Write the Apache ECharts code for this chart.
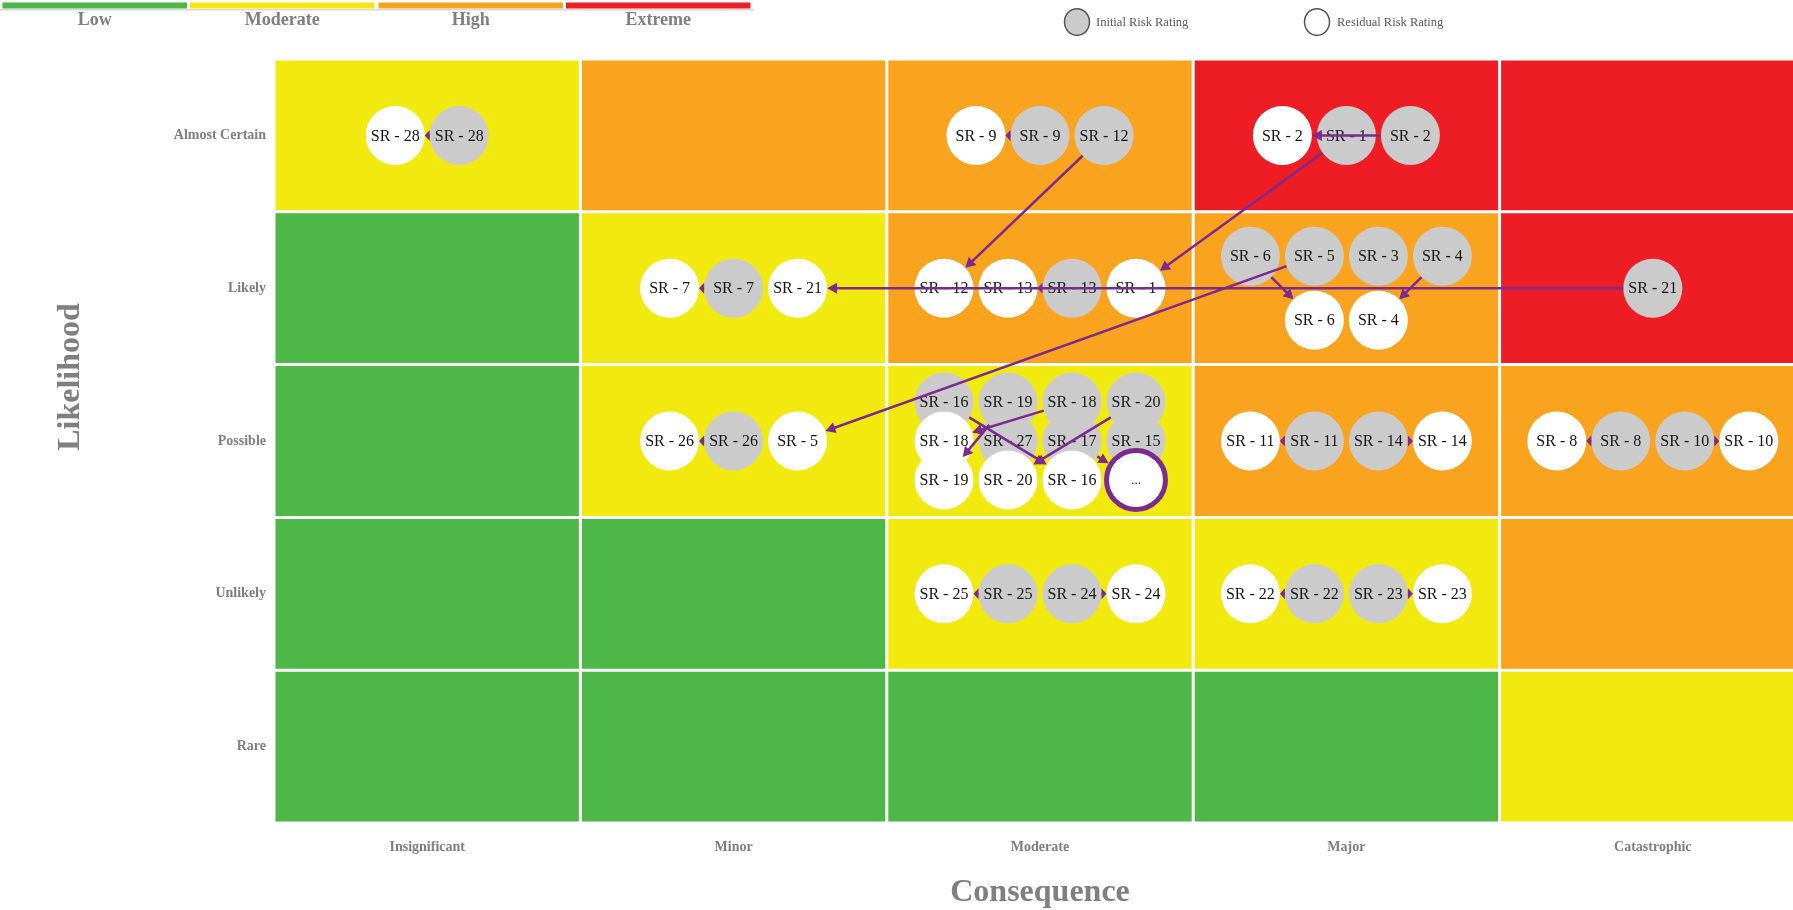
<!DOCTYPE html>
<html><head><meta charset="utf-8">
<script src="https://cdn.jsdelivr.net/npm/echarts@6/dist/echarts.min.js"></script>
<style>html,body{margin:0;padding:0;background:#fff}#c{width:1793px;height:910px}</style>
</head><body><div id="c"></div>
<script>
// ---------- data ----------
const consequences = ['Insignificant', 'Minor', 'Moderate', 'Major', 'Catastrophic'];
const likelihoods = ['Rare', 'Unlikely', 'Possible', 'Likely', 'Almost Certain'];
const ratingNames = ['Low', 'Moderate', 'High', 'Extreme'];
const ratingColors = ['#4DB848', '#F2EA0E', '#FAA31E', '#EE1D25'];
// rating index per consequence, one array per likelihood row
const ratingRare = [0, 0, 0, 0, 1];
const ratingUnlikely = [0, 0, 1, 1, 2];
const ratingPossible = [0, 1, 1, 2, 2];
const ratingLikely = [0, 1, 2, 2, 3];
const ratingAlmostCertain = [1, 2, 2, 3, 3];
const ratingRows = [ratingRare, ratingUnlikely, ratingPossible, ratingLikely, ratingAlmostCertain];

// cell contents in drawing order: I = initial risk rating, R = residual risk rating
const cellContents = [
  ['Almost Certain', 'Insignificant', ['R SR - 28', 'I SR - 28']],
  ['Almost Certain', 'Moderate', ['R SR - 9', 'I SR - 9', 'I SR - 12']],
  ['Almost Certain', 'Major', ['R SR - 2', 'I SR - 1', 'I SR - 2']],
  ['Likely', 'Minor', ['R SR - 7', 'I SR - 7', 'R SR - 21']],
  ['Likely', 'Moderate', ['R SR - 12', 'R SR - 13', 'I SR - 13', 'R SR - 1']],
  ['Likely', 'Major', ['I SR - 6', 'I SR - 5', 'I SR - 3', 'I SR - 4', 'R SR - 6', 'R SR - 4']],
  ['Likely', 'Catastrophic', ['I SR - 21']],
  ['Possible', 'Minor', ['R SR - 26', 'I SR - 26', 'R SR - 5']],
  ['Possible', 'Moderate', ['I SR - 16', 'I SR - 19', 'I SR - 18', 'I SR - 20', 'R SR - 18', 'I SR - 27', 'I SR - 17', 'I SR - 15', 'R SR - 19', 'R SR - 20', 'R SR - 16', 'R SR - 17', 'R SR - 15']],
  ['Possible', 'Major', ['R SR - 11', 'I SR - 11', 'I SR - 14', 'R SR - 14']],
  ['Possible', 'Catastrophic', ['R SR - 8', 'I SR - 8', 'I SR - 10', 'R SR - 10']],
  ['Unlikely', 'Moderate', ['R SR - 25', 'I SR - 25', 'I SR - 24', 'R SR - 24']],
  ['Unlikely', 'Major', ['R SR - 22', 'I SR - 22', 'I SR - 23', 'R SR - 23']]
];
const legendItems = ['Initial Risk Rating', 'Residual Risk Rating'];

// ---------- styling ----------
const GRAY_TXT = '#808080';
const SERIF = '"Liberation Serif", "Times New Roman", serif';
const INITIAL_FILL = '#CBCBCB';
const RESIDUAL_FILL = '#FFFFFF';
const ARROW = '#7B2A8D';
const R = 29.5;
const STEP = 64;
const MAX_SLOTS = 12;

// ---------- build marks ----------
const cellData = [];
ratingRows.forEach((row, l) => row.forEach((r, c) => cellData.push([c, l, r])));

const bubbles = [];
const lookup = {};
cellContents.forEach(([lk, cs, items]) => {
  const c = consequences.indexOf(cs), l = likelihoods.indexOf(lk);
  const overflow = items.length > MAX_SLOTS;
  const shown = overflow ? MAX_SLOTS - 1 : items.length;
  const n = overflow ? MAX_SLOTS : items.length;
  let more = null;
  if (overflow) more = { c, l, slot: MAX_SLOTS - 1, n, kind: 'M', label: '...' };
  items.forEach((tok, i) => {
    const kind = tok[0], label = tok.slice(2);
    if (i < shown) {
      const b = { c, l, slot: i, n, kind, label };
      bubbles.push(b); lookup[tok] = b;
    } else {
      lookup[tok] = more;
    }
  });
  if (more) bubbles.push(more);
});

const arrows = [];
Object.keys(lookup).forEach(tok => {
  if (tok[0] !== 'I') return;
  const res = lookup['R ' + tok.slice(2)];
  if (res) arrows.push({ from: lookup[tok], to: res });
});

function slotOffset(slot, n, size) {
  const rows = Math.ceil(n / 4);
  const r = Math.floor(slot / 4), i = slot % 4;
  const k = Math.min(4, n - 4 * r);
  const stepY = rows > 1 ? Math.min(STEP, (size[1] - 2 * R - 16) / (rows - 1)) : 0;
  return [(i - (k - 1) / 2) * STEP, (r - (rows - 1) / 2) * stepY];
}
function bubblePix(b, api) {
  const p = api.coord([b.c, b.l]);
  const o = slotOffset(b.slot, b.n, api.size([1, 1]));
  return [p[0] + o[0], p[1] + o[1]];
}

const chart = echarts.init(document.getElementById('c'), null, { renderer: 'canvas' });

const legendGraphics = [];
const barX = [2.5, 190, 378.5, 566];
const barW = 184.5;
legendGraphics.push({ type: 'rect', shape: { x: 0, y: 9, width: 754, height: 1.5 }, style: { fill: '#DADADA' } });
ratingNames.forEach((nm, i) => {
  legendGraphics.push({ type: 'rect', shape: { x: barX[i], y: 2.5, width: barW, height: 6 }, style: { fill: ratingColors[i] } });
  legendGraphics.push({ type: 'text', x: barX[i] + barW / 2, y: 20, style: { text: nm, align: 'center', verticalAlign: 'middle', font: 'bold 18px ' + SERIF, fill: GRAY_TXT } });
});
[[1077, INITIAL_FILL, 1096], [1317, RESIDUAL_FILL, 1337]].forEach(([cx, fill, tx], i) => {
  legendGraphics.push({ type: 'ellipse', shape: { cx: cx, cy: 22, rx: 12.5, ry: 13.3 }, style: { fill: fill, stroke: '#555', lineWidth: 1.5 } });
  legendGraphics.push({ type: 'text', x: tx, y: 23, style: { text: legendItems[i], align: 'left', verticalAlign: 'middle', font: '12.5px ' + SERIF, fill: '#5a5a5a' } });
});
legendGraphics.push({ type: 'text', x: 71, y: 377, rotation: Math.PI / 2, style: { text: 'Likelihood', align: 'center', verticalAlign: 'middle', font: 'bold 32px ' + SERIF, fill: GRAY_TXT } });

chart.setOption({
  animation: false,
  backgroundColor: '#fff',
  grid: { left: 274, top: 59, right: -13, bottom: 87, containLabel: false, outerBoundsMode: 'none' },
  xAxis: {
    type: 'category', data: consequences,
    axisLine: { show: false }, axisTick: { show: false }, splitLine: { show: false },
    axisLabel: { margin: 17, color: GRAY_TXT, fontFamily: SERIF, fontWeight: 'bold', fontSize: 14 },
    name: 'Consequence', nameLocation: 'middle', nameGap: 54,
    nameTextStyle: { color: GRAY_TXT, fontFamily: SERIF, fontWeight: 'bold', fontSize: 32 }
  },
  yAxis: {
    type: 'category', data: likelihoods,
    axisLine: { show: false }, axisTick: { show: false }, splitLine: { show: false },
    axisLabel: { margin: 8, color: GRAY_TXT, fontFamily: SERIF, fontWeight: 'bold', fontSize: 14 }
  },
  graphic: legendGraphics,
  series: [
    {
      type: 'custom', z: 1, clip: false,
      data: cellData,
      renderItem: (params, api) => {
        const p = api.coord([api.value(0), api.value(1)]);
        const s = api.size([1, 1]);
        return {
          type: 'rect',
          shape: { x: p[0] - s[0] / 2 + 1.5, y: p[1] - s[1] / 2 + 1.5, width: s[0] - 3, height: s[1] - 3 },
          style: { fill: ratingColors[api.value(2)] }
        };
      }
    },
    {
      type: 'custom', z: 2, clip: false,
      data: bubbles.map(b => [b.c, b.l]),
      renderItem: (params, api) => {
        const b = bubbles[params.dataIndex];
        const p = bubblePix(b, api);
        const isMore = b.kind === 'M';
        return {
          type: 'group',
          children: [
            { type: 'circle', shape: { cx: p[0], cy: p[1], r: R },
              style: isMore ? { fill: '#fff', stroke: ARROW, lineWidth: 5 } : { fill: b.kind === 'I' ? INITIAL_FILL : RESIDUAL_FILL } },
            { type: 'text', x: p[0], y: p[1] + 1,
              style: { text: b.label, align: 'center', verticalAlign: 'middle', font: (isMore ? '13px ' : '16px ') + SERIF, fill: '#161616' } }
          ]
        };
      }
    },
    {
      type: 'custom', z: 3, clip: false,
      data: arrows.map(a => [a.from.c, a.from.l]),
      renderItem: (params, api) => {
        const a = arrows[params.dataIndex];
        const p1 = bubblePix(a.from, api), p2 = bubblePix(a.to, api);
        const r1 = R, r2 = a.to.kind === 'M' ? R + 2.5 : R;
        const dx = p2[0] - p1[0], dy = p2[1] - p1[1];
        const d = Math.sqrt(dx * dx + dy * dy);
        if (d < r1 + r2 + 4) return null;
        const ux = dx / d, uy = dy / d;
        const sx = p1[0] + ux * r1, sy = p1[1] + uy * r1;
        const tx = p2[0] - ux * r2, ty = p2[1] - uy * r2;
        const hl = Math.min(10, (d - r1 - r2)), hw = 5.5;
        const bx = tx - ux * hl, by = ty - uy * hl;
        return {
          type: 'group',
          children: [
            { type: 'line', shape: { x1: sx, y1: sy, x2: bx + ux * 1, y2: by + uy * 1 }, style: { stroke: ARROW, lineWidth: 2.5 } },
            { type: 'polygon', shape: { points: [[tx, ty], [bx - uy * hw, by + ux * hw], [bx + uy * hw, by - ux * hw]] }, style: { fill: ARROW } }
          ]
        };
      }
    }
  ]
});
</script></body></html>
